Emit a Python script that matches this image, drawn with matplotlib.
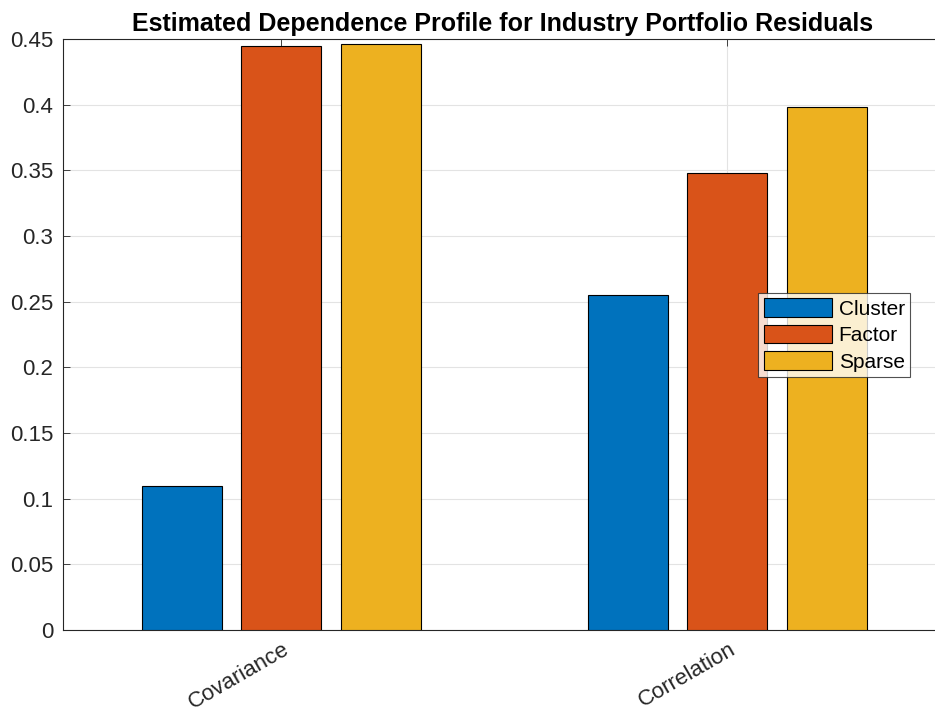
#
# Dependence profile bar chart (MATLAB-style grouped bars)
#
import numpy as np
import matplotlib
matplotlib.use("Agg")
import matplotlib.pyplot as plt
import matplotlib.transforms as mtransforms

categories = ["Covariance", "Correlation"]
models = ["Cluster", "Factor", "Sparse"]
cluster = [0.110, 0.255]
factor = [0.445, 0.348]
sparse = [0.446, 0.398]

colors = ["#0072BD", "#D95319", "#EDB120"]

plt.rcParams["font.family"] = ["Liberation Sans", "DejaVu Sans"]

fig = plt.figure(figsize=(9.35, 7.07), dpi=100)
# axes runs slightly past the right edge of the figure (cropped like the original)
ax = fig.add_axes([63 / 935, 77 / 707, 883 / 935, 591 / 707])

x = np.arange(1, len(categories) + 1)
width = 0.179
offset = 0.223
for i, (vals, name) in enumerate(zip([cluster, factor, sparse], models)):
    ax.bar(x + (i - 1) * offset, vals, width, color=colors[i], edgecolor="black",
           linewidth=0.8, label=name, zorder=3)

ax.set_xlim(0.511, 2.49)
ax.set_ylim(0, 0.45)
ax.set_yticks(np.arange(0, 0.451, 0.05))
ax.set_yticklabels(["0", "0.05", "0.1", "0.15", "0.2", "0.25", "0.3", "0.35", "0.4", "0.45"])
ax.set_xticks(x)
ax.set_xticklabels(categories, rotation=30, ha="right", va="center",
                   rotation_mode="anchor", fontsize=15.5)

ax.tick_params(axis="both", direction="in", labelsize=16, colors="#262626",
               length=5, width=0.6, top=True)
ax.tick_params(axis="y", pad=7)
ax.tick_params(axis="x", pad=13)
# nudge the slanted category labels a little to the right
shift = mtransforms.ScaledTranslation(7 / 100, 0, fig.dpi_scale_trans)
for lbl in ax.get_xticklabels():
    lbl.set_transform(lbl.get_transform() + shift)

ax.grid(True, color="#E3E3E3", linewidth=0.8, zorder=0)
ax.set_axisbelow(True)
for s in ["left", "top", "bottom"]:
    ax.spines[s].set_color("#262626")
    ax.spines[s].set_linewidth(0.8)
ax.spines["right"].set_visible(False)

ax.set_title("Estimated Dependence Profile for Industry Portfolio Residuals",
             fontsize=18, fontweight="bold", pad=6, x=(503 - 63) / 883)

leg = ax.legend(loc="center right", bbox_to_anchor=(910 / 935, 1 - 335 / 707),
                bbox_transform=fig.transFigure, fontsize=15, frameon=True,
                fancybox=False, edgecolor="#262626", handlelength=3.3,
                handleheight=1.0, borderpad=0.25, labelspacing=0.3,
                handletextpad=0.3, borderaxespad=0)
leg.get_frame().set_linewidth(0.8)

fig.savefig("out.png", dpi=100)
